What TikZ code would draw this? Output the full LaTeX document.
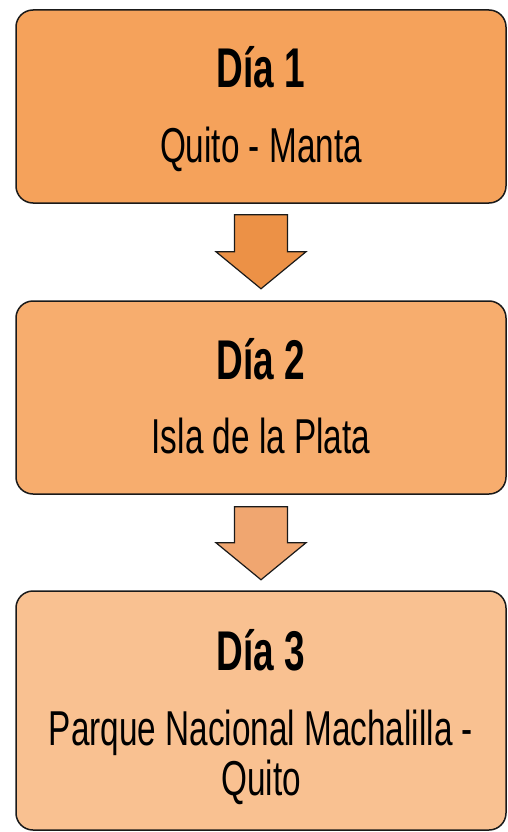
\documentclass[tikz,border=0pt]{standalone}
\usepackage{fontspec}
\usepackage{xcolor}
\usepackage{tikz}
\usetikzlibrary{calc}

\newfontfamily\dayfont{Liberation Sans}[FakeStretch=0.68]
\newfontfamily\daytitlefont{Liberation Sans}[FakeStretch=0.66]

\definecolor{boxone}{RGB}{245,162,91}
\definecolor{boxtwo}{RGB}{247,173,110}
\definecolor{boxthree}{RGB}{249,193,145}
\definecolor{arrowone}{RGB}{236,145,70}
\definecolor{arrowtwo}{RGB}{240,166,112}
\definecolor{edge}{RGB}{26,26,26}

\tikzset{
  daybox/.style={draw=edge,line width=1.5,rounded corners=17,minimum width=490,inner sep=0},
  dayarrow/.style={draw=edge,line width=1.2,line join=miter},
  daytitle/.style={anchor=base,inner sep=0,font=\daytitlefont\bfseries\fontsize{56}{60}\selectfont},
  dayplace/.style={anchor=base,inner sep=0,align=center,font=\dayfont\fontsize{49}{50}\selectfont}
}

\begin{document}
\begin{tikzpicture}[x=1pt,y=-1pt]
    \useasboundingbox (0,0) rectangle (508,832);
    \node[daybox,fill=boxone,minimum height=193] (d1) at (261,106.5) {};
    \node[daybox,fill=boxtwo,minimum height=193] (d2) at (261,397.5) {};
    \node[daybox,fill=boxthree,minimum height=239] (d3) at (261,710.5) {};
    \node[daytitle] (t1) at (261,88) {Día 1};
    \node[dayplace] (p1) at (261,162) {Quito - Manta};
    \node[daytitle] (t2) at (261,379) {Día 2};
    \node[dayplace] (p2) at (261,453) {Isla de la Plata};
    \node[daytitle] (t3) at (261,670) {Día 3};
    \node[dayplace] (p3) at (261,795) {Parque Nacional Machalilla -\\Quito};
    \draw[dayarrow,fill=arrowone] ($(d1.south)+(-26.5,11)$) -- ++(53,0) -- ++(0,37) -- ++(18.5,0)
        -- ($(d1.south)+(0,85)$) -- ++(-45,-37) -- ++(18.5,0) -- cycle;
    \draw[dayarrow,fill=arrowtwo] ($(d2.south)+(-26.5,12)$) -- ++(53,0) -- ++(0,36) -- ++(18.5,0)
        -- ($(d2.south)+(0,85)$) -- ++(-45,-37) -- ++(18.5,0) -- cycle;
\end{tikzpicture}
\end{document}
